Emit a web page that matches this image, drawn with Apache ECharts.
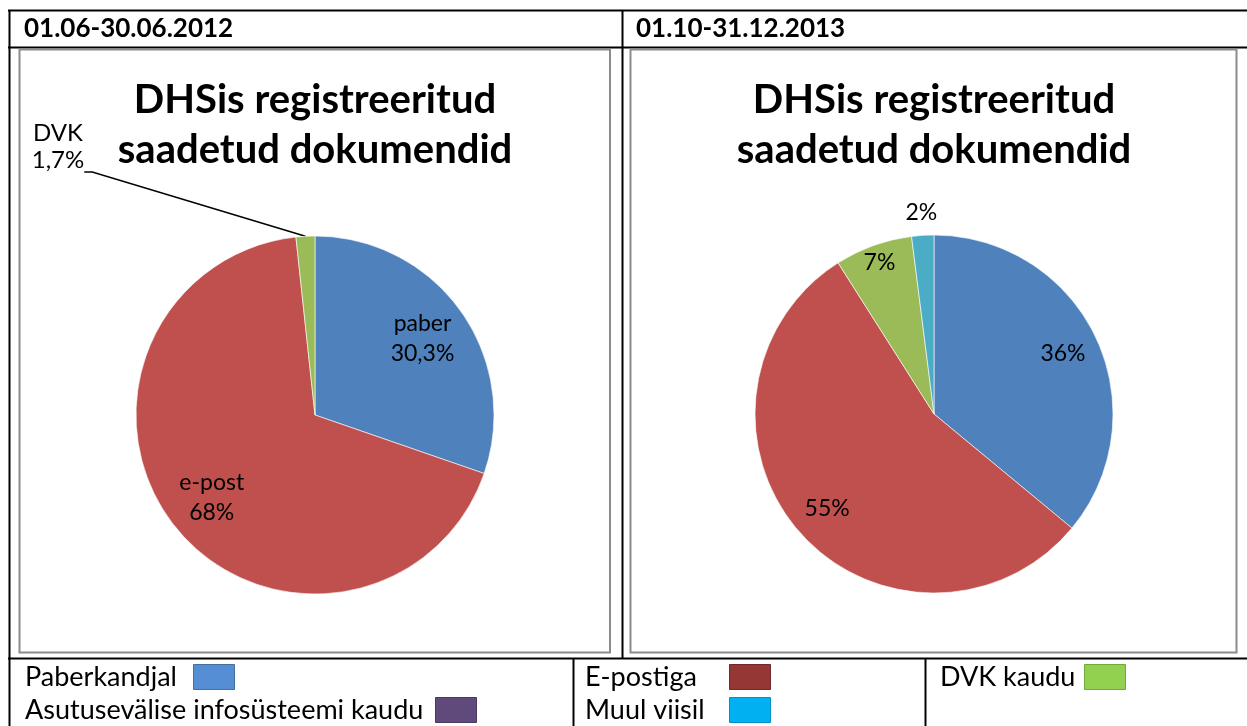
<!DOCTYPE html>
<html>
<head>
<meta charset="utf-8">
<script src="https://cdn.jsdelivr.net/npm/echarts@6/dist/echarts.min.js"></script>
<style>
    html, body { margin: 0; padding: 0; background: #fff; }
    #container { width: 1247px; height: 726px; }
</style>
</head>
<body>
<div id="container"></div>
<script>
    // andmed
    var periods = ['01.06-30.06.2012', '01.10-31.12.2013'];
    var chartTitle = 'DHSis registreeritud\nsaadetud dokumendid';
    var leftNames = ['paber', 'e-post', 'DVK'];
    var leftValues = [30.3, 68, 1.7];
    var rightNames = ['Paberkandjal', 'E-postiga', 'DVK kaudu', 'Muul viisil'];
    var rightValues = [36, 55, 7, 2];
    var legendNames = ['Paberkandjal', 'Asutusevälise infosüsteemi kaudu', 'E-postiga', 'Muul viisil', 'DVK kaudu'];

    // stiilid
    var pieColors = ['#4F81BD', '#C0504D', '#9BBB59', '#4BACC6'];
    var legendColors = ['#558ED5', '#604A7B', '#953735', '#00B0F0', '#92D050'];
    var legendBorders = ['#41719C', '#4A3A60', '#70292A', '#0091C6', '#71A83C'];
    var legendTextX = [25, 25, 585, 585, 940];
    var legendBoxX = [193, 435, 729, 729, 1084];
    var legendRowY = [677, 710, 677, 710, 677];
    var font = 'Lato';
    var R = 179;
    var leftCenter = [315, 415];
    var rightCenter = [934, 414];

    function pct(v) {
        return String(v).replace('.', ',') + '%';
    }

    function labelRing(center, inner, outer, values, names, shown, fmt) {
        return {
            type: 'pie',
            center: center,
            radius: [inner, outer],
            silent: true,
            animation: false,
            itemStyle: { color: 'transparent', borderWidth: 0 },
            emphasis: { disabled: true },
            labelLine: { show: false },
            label: {
                position: 'inside',
                formatter: fmt,
                color: '#000',
                fontFamily: font,
                fontSize: 23,
                lineHeight: 30
            },
            data: values.map(function (v, i) {
                return { value: v, name: names[i], label: { show: shown.indexOf(i) >= 0 } };
            })
        };
    }

    var graphics = [];
    // tabeli jooned
    var lines = [
        [8, 10.5, 1247, 10.5], [9.5, 10, 9.5, 726], [8, 47.5, 1247, 47.5],
        [622.5, 10, 622.5, 658], [8, 658.5, 1247, 658.5],
        [573.5, 658, 573.5, 726], [925.5, 658, 925.5, 726]
    ];
    lines.forEach(function (l) {
        graphics.push({ type: 'line', shape: { x1: l[0], y1: l[1], x2: l[2], y2: l[3] },
            style: { stroke: '#000', lineWidth: 2 }, silent: true });
    });
    // diagrammide raamid
    [[19.5, 49.5, 590.5, 603], [630.5, 49.5, 606, 603]].forEach(function (r) {
        graphics.push({ type: 'rect', shape: { x: r[0], y: r[1], width: r[2], height: r[3] },
            style: { fill: 'none', stroke: '#8C8C8C', lineWidth: 2 }, silent: true });
    });
    // päised
    [24, 636].forEach(function (x, i) {
        graphics.push({ type: 'text', x: x, y: 29, style: { text: periods[i], font: 'bold 26px ' + font,
            fill: '#000', textVerticalAlign: 'middle' } });
    });
    // pealkirjad
    [leftCenter[0], rightCenter[0]].forEach(function (x) {
        graphics.push({ type: 'text', x: x, y: 125, style: { text: chartTitle, font: 'bold 40px ' + font,
            fill: '#000', textAlign: 'center', textVerticalAlign: 'middle', lineHeight: 50 } });
    });
    // legend
    legendNames.forEach(function (n, i) {
        graphics.push({ type: 'text', x: legendTextX[i], y: legendRowY[i],
            style: { text: n, font: '27px ' + font, fill: '#000', textVerticalAlign: 'middle' } });
        graphics.push({ type: 'rect', shape: { x: legendBoxX[i] + 0.5, y: legendRowY[i] - 12.5, width: 41, height: 25 },
            style: { fill: legendColors[i], stroke: legendBorders[i], lineWidth: 1 } });
    });

    function slices(values, names) {
        return values.map(function (v, i) {
            return { value: v, name: names[i], itemStyle: { color: pieColors[i] } };
        });
    }

    var leftData = slices(leftValues, leftNames);
    leftData[2].label = {
        show: true, position: 'outside', color: '#000', fontFamily: font, fontSize: 24,
        lineHeight: 27, align: 'center', padding: [0, 0, 50, 0],
        formatter: function (p) { return p.name + '\n' + pct(p.value); }
    };
    leftData[2].labelLine = { show: true, length: 10, length2: 8, lineStyle: { color: '#000', width: 1.5 } };

    var myChart = echarts.init(document.getElementById('container'));
    var option = {
        animation: false,
        graphic: graphics,
        series: [{
            type: 'pie',
            center: leftCenter,
            radius: R,
            startAngle: 90,
            clockwise: true,
            silent: true,
            itemStyle: { borderColor: 'rgba(255,255,255,0.6)', borderWidth: 1 },
            label: { show: false },
            labelLine: { show: false },
            labelLayout: function (params) {
                if (params.dataIndex === 2) {
                    return { x: 58, y: 120, align: 'center', verticalAlign: 'top' };
                }
            },
            data: leftData
        },
        labelRing(leftCenter, 79, R, leftValues, leftNames, [0, 1], function (p) {
            return p.name + '\n' + pct(p.value);
        }),
        {
            type: 'pie',
            center: rightCenter,
            radius: R,
            startAngle: 90,
            clockwise: true,
            silent: true,
            itemStyle: { borderColor: 'rgba(255,255,255,0.6)', borderWidth: 1 },
            label: { show: false },
            labelLine: { show: false },
            data: slices(rightValues, rightNames)
        },
        labelRing(rightCenter, 100, R, rightValues, rightNames, [0, 1], function (p) { return pct(p.value); }),
        labelRing(rightCenter, 137, R, rightValues, rightNames, [2], function (p) { return pct(p.value); }),
        labelRing(rightCenter, R, 219, rightValues, rightNames, [3], function (p) { return pct(p.value); })
        ]
    };
    myChart.setOption(option);
</script>
</body>
</html>
